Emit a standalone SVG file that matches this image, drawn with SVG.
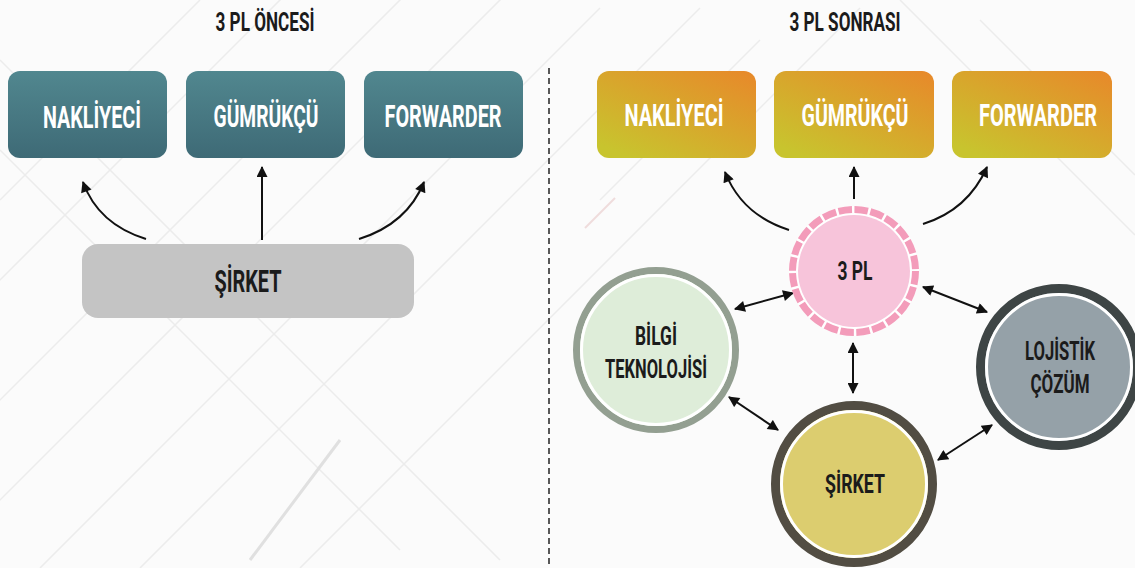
<svg xmlns="http://www.w3.org/2000/svg" width="1135" height="568" viewBox="0 0 1135 568">
<defs>
<linearGradient id="teal" x1="0" y1="0" x2="0" y2="1">
<stop offset="0" stop-color="#51878f"/><stop offset="1" stop-color="#3e6a76"/>
</linearGradient>
<linearGradient id="orange" x1="1" y1="0" x2="0.2" y2="1">
<stop offset="0" stop-color="#e8882a"/><stop offset="1" stop-color="#c8c42e"/>
</linearGradient>
<marker id="ah" viewBox="0 0 10 10" refX="9" refY="5" markerWidth="13" markerHeight="11" markerUnits="userSpaceOnUse" orient="auto-start-reverse">
<path d="M0,0 L10,5 L0,10 z" fill="#111"/>
</marker>
<style>
.t{font-family:"Roboto","Liberation Sans",sans-serif;font-weight:bold;text-anchor:middle}
.w{fill:#ffffff;font-size:22px}
.k{fill:#1b1b1b;font-size:22px}
.d{fill:#1b1b1b;font-size:19px}
.h{fill:#1b1b1b;font-size:18px}
.c{fill:none;stroke:#111;stroke-width:2}
.bg{stroke:#ececec;stroke-width:1.5;fill:none}
</style>
</defs>
<rect width="1135" height="568" fill="#fbfbfb"/>
<g id="background">
<path class="bg" d="M-20,420 L420,-20 M-20,520 L520,-20 M40,568 L600,8 M140,568 L700,8 M300,568 L860,8 M-20,300 L300,-20 M0,200 L200,0 M600,200 L760,40 M980,20 L1135,175 M900,0 L1135,235 M0,150 L400,550 M0,60 L500,560"/>
<path d="M250,560 L340,440" stroke="#e0e0e0" stroke-width="3" fill="none"/>
<path d="M585,228 L615,198" stroke="#efdcdc" stroke-width="2" fill="none"/>
</g>

<g transform="translate(265,31) scale(1,1.4)"><text class="t h" x="0" y="0" textLength="99" lengthAdjust="spacingAndGlyphs">3 PL ÖNCESİ</text></g>
<g transform="translate(845,31) scale(1,1.4)"><text class="t h" x="0" y="0" textLength="111" lengthAdjust="spacingAndGlyphs">3 PL SONRASI</text></g>

<line x1="549" y1="68" x2="549" y2="566" stroke="#222" stroke-width="1.5" stroke-dasharray="6,4"/>

<g id="connectors">
<path class="c" d="M146,239 Q98,224 83,182" marker-end="url(#ah)"/>
<line class="c" x1="262" y1="240" x2="262" y2="167" marker-end="url(#ah)"/>
<path class="c" d="M359,239 Q407,224 424,182" marker-end="url(#ah)"/>

<path class="c" d="M789,230 Q742,215 725,172" marker-end="url(#ah)"/>
<line class="c" x1="854" y1="199" x2="854" y2="167" marker-end="url(#ah)"/>
<path class="c" d="M923,224 Q968,210 987,167" marker-end="url(#ah)"/>

<line class="c" x1="735" y1="309" x2="793" y2="293" marker-start="url(#ah)" marker-end="url(#ah)"/>
<line class="c" x1="923" y1="287" x2="987" y2="312" marker-start="url(#ah)" marker-end="url(#ah)"/>
<line class="c" x1="853" y1="343" x2="853" y2="393" marker-start="url(#ah)" marker-end="url(#ah)"/>
<line class="c" x1="729" y1="397" x2="778" y2="430" marker-start="url(#ah)" marker-end="url(#ah)"/>
<line class="c" x1="938" y1="460" x2="992" y2="425" marker-start="url(#ah)" marker-end="url(#ah)"/>
</g>

<g id="nakliyeci-once">
<rect x="8" y="71" width="159" height="87" rx="12" fill="url(#teal)"/>
<g transform="translate(92,128) scale(1,1.4)"><text class="t w" x="0" y="0" textLength="98" lengthAdjust="spacingAndGlyphs">NAKLİYECİ</text></g>
</g>
<g id="gumrukcu-once">
<rect x="186" y="71" width="159" height="87" rx="12" fill="url(#teal)"/>
<g transform="translate(266,127) scale(1,1.4)"><text class="t w" x="0" y="0" textLength="105" lengthAdjust="spacingAndGlyphs">GÜMRÜKÇÜ</text></g>
</g>
<g id="forwarder-once">
<rect x="364" y="71" width="159" height="87" rx="12" fill="url(#teal)"/>
<g transform="translate(443,127) scale(1,1.4)"><text class="t w" x="0" y="0" textLength="117" lengthAdjust="spacingAndGlyphs">FORWARDER</text></g>
</g>
<g id="sirket-once">
<rect x="82" y="244" width="332" height="74" rx="16" fill="#c4c4c4"/>
<g transform="translate(248,292) scale(1,1.4)"><text class="t k" x="0" y="0" textLength="67" lengthAdjust="spacingAndGlyphs">ŞİRKET</text></g>
</g>

<g id="nakliyeci-sonra">
<rect x="597" y="71" width="159" height="87" rx="12" fill="url(#orange)"/>
<g transform="translate(674,126) scale(1,1.4)"><text class="t w" x="0" y="0" textLength="99" lengthAdjust="spacingAndGlyphs">NAKLİYECİ</text></g>
</g>
<g id="gumrukcu-sonra">
<rect x="774" y="71" width="160" height="87" rx="12" fill="url(#orange)"/>
<g transform="translate(855,126) scale(1,1.4)"><text class="t w" x="0" y="0" textLength="107" lengthAdjust="spacingAndGlyphs">GÜMRÜKÇÜ</text></g>
</g>
<g id="forwarder-sonra">
<rect x="952" y="71" width="160" height="87" rx="12" fill="url(#orange)"/>
<g transform="translate(1038,126) scale(1,1.4)"><text class="t w" x="0" y="0" textLength="118" lengthAdjust="spacingAndGlyphs">FORWARDER</text></g>
</g>

<g id="node-3pl">
<circle cx="854" cy="271" r="65" fill="#ffffff"/>
<circle cx="854" cy="271" r="61.5" fill="none" stroke="#f39cba" stroke-width="7" stroke-dasharray="13.6,2.5"/>
<circle cx="854" cy="271" r="56" fill="#f7c4da"/>
<g transform="translate(855,280) scale(1,1.4)"><text class="t d" x="0" y="0" textLength="35" lengthAdjust="spacingAndGlyphs">3 PL</text></g>
</g>
<g id="node-bilgi">
<circle cx="656" cy="350" r="79.5" fill="#deedd9" stroke="#939f91" stroke-width="7"/>
<circle cx="656" cy="350" r="74.5" fill="none" stroke="#ffffff" stroke-width="3"/>
<g transform="translate(656,345) scale(1,1.4)"><text class="t d" x="0" y="0" textLength="42" lengthAdjust="spacingAndGlyphs">BİLGİ</text></g>
<g transform="translate(656,378) scale(1,1.4)"><text class="t d" x="0" y="0" textLength="102" lengthAdjust="spacingAndGlyphs">TEKNOLOJİSİ</text></g>
</g>
<g id="node-sirket">
<circle cx="854" cy="484" r="78.5" fill="#dccd6f" stroke="#524d43" stroke-width="9"/>
<circle cx="854" cy="484" r="72.5" fill="none" stroke="#ffffff" stroke-width="3"/>
<g transform="translate(855,493) scale(1,1.4)"><text class="t d" x="0" y="0" textLength="60" lengthAdjust="spacingAndGlyphs">ŞİRKET</text></g>
</g>
<g id="node-lojistik">
<circle cx="1059" cy="367" r="78.5" fill="#95a1a8" stroke="#3e4545" stroke-width="9"/>
<circle cx="1059" cy="367" r="72.5" fill="none" stroke="#ffffff" stroke-width="3"/>
<g transform="translate(1060,360) scale(1,1.4)"><text class="t d" x="0" y="0" textLength="70" lengthAdjust="spacingAndGlyphs">LOJİSTİK</text></g>
<g transform="translate(1060,393) scale(1,1.4)"><text class="t d" x="0" y="0" textLength="59" lengthAdjust="spacingAndGlyphs">ÇÖZÜM</text></g>
</g>
</svg>
